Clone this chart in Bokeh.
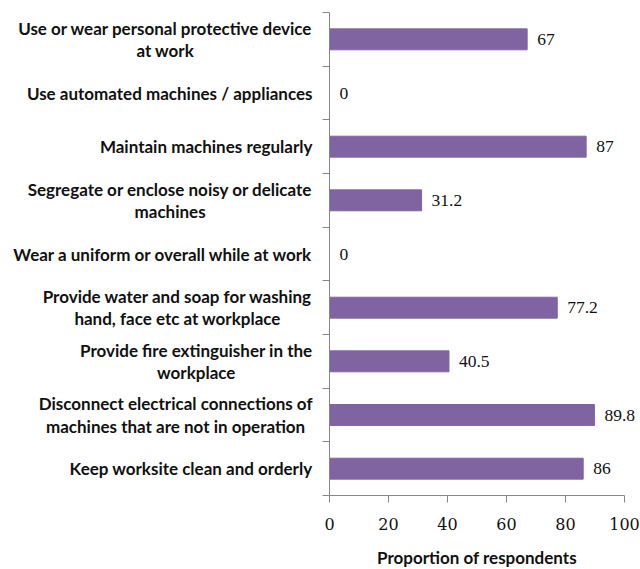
from bokeh.plotting import figure
from bokeh.models import Range1d, FixedTicker, LabelSet, ColumnDataSource, Label
from bokeh.core.properties import value
from bokeh.embed import file_html
from bokeh.resources import INLINE

categories = [
    "Use or wear personal protective device\nat work",
    "Use automated machines / appliances",
    "Maintain machines regularly",
    "Segregate or enclose noisy or delicate\nmachines",
    "Wear a uniform or overall while at work",
    "Provide water and soap for washing\nhand, face etc at workplace",
    "Provide fire extinguisher in the\nworkplace",
    "Disconnect electrical connections of\nmachines that are not in operation",
    "Keep worksite clean and orderly",
]
values = [67, 0, 87, 31.2, 0, 77.2, 40.5, 89.8, 86]
value_labels = ["67", "0", "87", "31.2", "0", "77.2", "40.5", "89.8", "86"]
x_ticks = [0, 20, 40, 60, 80, 100]
x_title = "Proportion of respondents"

BAR = "#8064A2"
AXIS = "#868686"
LABEL_FONT = "Lato"
NUM_FONT = "DejaVu Serif"

n = len(categories)
ypos = [n - i - 0.5 for i in range(n)]

# view window: the frame fills the page; axes are pinned at 0
px_per_x = 2.95
px_per_y = 53.67
x_view = Range1d(-329 / px_per_x, -329 / px_per_x + 640 / px_per_x)
y_view = Range1d(-(569 - 495) / px_per_y, n + 12 / px_per_y)

p = figure(width=640, height=569, output_backend="svg", toolbar_location=None,
           x_range=x_view, y_range=y_view,
           min_border_left=0, min_border_right=0, min_border_top=0,
           min_border_bottom=0)
p.outline_line_color = None
p.xgrid.grid_line_color = None
p.ygrid.grid_line_color = None
p.background_fill_color = "white"
p.border_fill_color = "white"

src = ColumnDataSource(dict(y=ypos, v=values, t=value_labels, c=categories))
p.hbar(y="y", left=0, right="v", height=0.39, fill_color=BAR,
       line_color=BAR, source=src)

p.add_layout(LabelSet(x="v", y="y", text="t", source=src, x_offset=10,
                      text_baseline="middle", text_font=NUM_FONT,
                      text_font_size="17.5px", text_color="#111111"))

p.text(x=0, y="y", text="c", source=src, x_offset=-17,
       anchor="center_right", text_align="center", text_baseline="middle",
       text_font=value(LABEL_FONT), text_font_style="bold",
       text_font_size="17px", text_line_height=1.05, text_color="#111111")

xa = p.xaxis[0]
xa.fixed_location = 0
xa.ticker = FixedTicker(ticks=x_ticks)
xa.bounds = (0, 100)
xa.axis_line_color = AXIS
xa.major_tick_line_color = AXIS
xa.major_tick_out = 7
xa.major_tick_in = 0
xa.minor_tick_line_color = None
xa.major_label_text_font = NUM_FONT
xa.major_label_text_font_size = "16px"
xa.major_label_text_color = "#111111"
xa.major_label_standoff = 15

ya = p.yaxis[0]
ya.fixed_location = 0
ya.ticker = FixedTicker(ticks=[], minor_ticks=list(range(n + 1)))
ya.bounds = (0, n)
ya.axis_line_color = AXIS
ya.major_tick_line_color = None
ya.minor_tick_line_color = AXIS
ya.minor_tick_out = 7
ya.minor_tick_in = 0

p.add_layout(Label(x=50, y=0, y_offset=-62, text=x_title, text_align="center",
                   text_baseline="middle", text_font=LABEL_FONT,
                   text_font_style="bold", text_font_size="17px",
                   text_line_height=1.0, text_color="#111111"))

open("out.html", "w").write(file_html(p, INLINE))
